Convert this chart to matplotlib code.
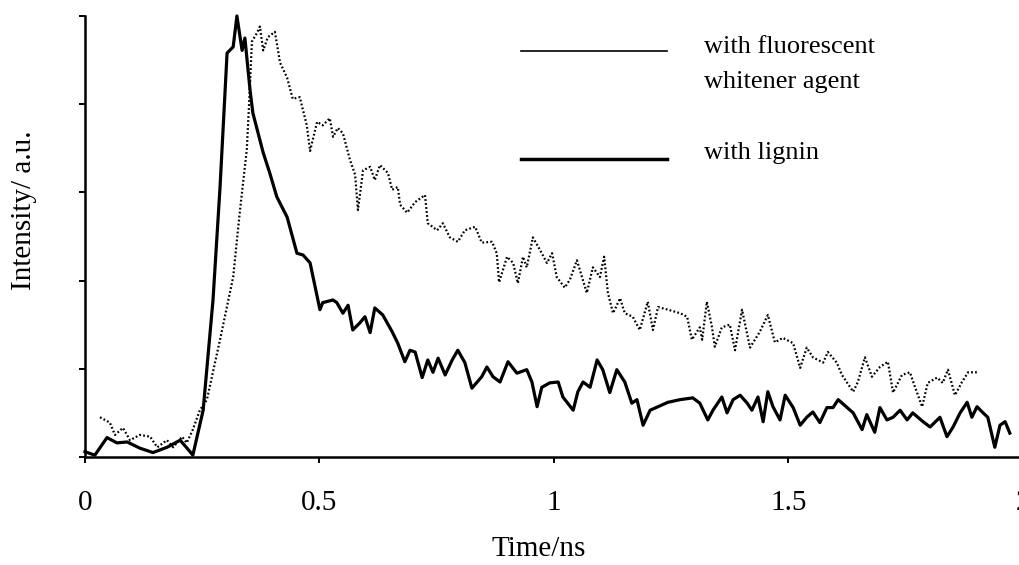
"""
Fluorescence decay: fluorescent whitener agent vs lignin
"""

import matplotlib
matplotlib.use("Agg")
import matplotlib.pyplot as plt
from matplotlib.lines import Line2D


# time (ns) and intensity (a.u.)
t_lignin = [0.000, 0.021, 0.047, 0.068, 0.090, 0.117, 0.145, 0.175, 0.203, 0.224, 0.230,
            0.252, 0.273, 0.288, 0.303, 0.316, 0.324, 0.335, 0.341, 0.352, 0.358, 0.380,
            0.394, 0.409, 0.431, 0.452, 0.465, 0.480, 0.501, 0.507, 0.529, 0.537, 0.550,
            0.561, 0.571, 0.586, 0.597, 0.608, 0.618, 0.635, 0.655, 0.667, 0.682, 0.693,
            0.704, 0.719, 0.731, 0.742, 0.753, 0.768, 0.783, 0.795, 0.810, 0.825, 0.846,
            0.857, 0.870, 0.885, 0.902, 0.921, 0.942, 0.953, 0.964, 0.974, 0.991, 1.009,
            1.019, 1.041, 1.051, 1.062, 1.077, 1.092, 1.104, 1.119, 1.134, 1.151, 1.166,
            1.177, 1.190, 1.205, 1.222, 1.243, 1.269, 1.296, 1.311, 1.328, 1.339, 1.358,
            1.369, 1.382, 1.397, 1.412, 1.422, 1.435, 1.446, 1.456, 1.467, 1.482, 1.493,
            1.510, 1.525, 1.539, 1.552, 1.567, 1.582, 1.595, 1.606, 1.625, 1.638, 1.657,
            1.667, 1.684, 1.695, 1.710, 1.723, 1.738, 1.753, 1.765, 1.787, 1.802, 1.823,
            1.838, 1.851, 1.866, 1.881, 1.891, 1.902, 1.915, 1.925, 1.940, 1.951, 1.962,
            1.972]
i_lignin = [0.06, 0.02, 0.22, 0.16, 0.17, 0.10, 0.05, 0.11, 0.19, 0.06, 0.02,
            0.53, 1.78, 3.06, 4.58, 4.65, 5.00, 4.61, 4.75, 4.16, 3.90, 3.45,
            3.22, 2.95, 2.72, 2.31, 2.29, 2.20, 1.67, 1.75, 1.78, 1.75, 1.63,
            1.72, 1.44, 1.52, 1.59, 1.41, 1.69, 1.61, 1.42, 1.29, 1.08, 1.21,
            1.19, 0.90, 1.10, 0.96, 1.12, 0.93, 1.10, 1.21, 1.07, 0.78, 0.91,
            1.02, 0.91, 0.85, 1.08, 0.95, 0.99, 0.85, 0.57, 0.79, 0.84, 0.85,
            0.68, 0.53, 0.74, 0.85, 0.79, 1.10, 0.99, 0.73, 0.99, 0.85, 0.61,
            0.65, 0.36, 0.53, 0.57, 0.62, 0.65, 0.67, 0.61, 0.42, 0.53, 0.68,
            0.50, 0.65, 0.70, 0.61, 0.53, 0.68, 0.40, 0.74, 0.57, 0.42, 0.70,
            0.56, 0.36, 0.45, 0.51, 0.39, 0.56, 0.56, 0.65, 0.56, 0.50, 0.31,
            0.48, 0.28, 0.56, 0.42, 0.45, 0.53, 0.42, 0.50, 0.40, 0.34, 0.45,
            0.23, 0.34, 0.50, 0.62, 0.45, 0.57, 0.50, 0.45, 0.11, 0.36, 0.40,
            0.27]

t_fwa = [0.032, 0.053, 0.064, 0.081, 0.096, 0.117, 0.139, 0.154, 0.175, 0.188, 0.207,
         0.217, 0.230, 0.245, 0.260, 0.288, 0.316, 0.330, 0.345, 0.350, 0.356, 0.367,
         0.373, 0.380, 0.390, 0.405, 0.416, 0.431, 0.443, 0.458, 0.473, 0.480, 0.495,
         0.507, 0.522, 0.529, 0.539, 0.550, 0.565, 0.576, 0.582, 0.593, 0.608, 0.618,
         0.629, 0.646, 0.655, 0.667, 0.672, 0.687, 0.704, 0.725, 0.731, 0.751, 0.763,
         0.778, 0.795, 0.810, 0.832, 0.846, 0.868, 0.878, 0.883, 0.900, 0.913, 0.923,
         0.934, 0.942, 0.955, 0.970, 0.985, 0.996, 1.006, 1.023, 1.034, 1.049, 1.070,
         1.083, 1.098, 1.107, 1.115, 1.126, 1.141, 1.151, 1.168, 1.183, 1.200, 1.211,
         1.222, 1.243, 1.269, 1.284, 1.294, 1.311, 1.316, 1.326, 1.337, 1.343, 1.358,
         1.375, 1.386, 1.401, 1.418, 1.439, 1.456, 1.471, 1.488, 1.510, 1.525, 1.539,
         1.552, 1.574, 1.584, 1.603, 1.614, 1.638, 1.648, 1.663, 1.678, 1.695, 1.712,
         1.723, 1.742, 1.759, 1.770, 1.785, 1.797, 1.817, 1.829, 1.840, 1.855, 1.870,
         1.883, 1.902]
i_fwa = [0.45, 0.39, 0.25, 0.33, 0.19, 0.25, 0.23, 0.11, 0.19, 0.11, 0.23,
         0.16, 0.31, 0.53, 0.65, 1.33, 2.04, 2.77, 3.48, 4.01, 4.71, 4.81,
         4.88, 4.61, 4.76, 4.82, 4.47, 4.30, 4.06, 4.08, 3.76, 3.47, 3.80,
         3.76, 3.84, 3.63, 3.73, 3.67, 3.37, 3.20, 2.80, 3.25, 3.29, 3.14,
         3.31, 3.22, 3.03, 3.06, 2.86, 2.77, 2.89, 2.97, 2.65, 2.57, 2.65,
         2.49, 2.44, 2.57, 2.61, 2.43, 2.44, 2.31, 1.98, 2.27, 2.20, 1.97,
         2.27, 2.15, 2.49, 2.35, 2.20, 2.31, 2.04, 1.92, 2.01, 2.23, 1.86,
         2.15, 2.04, 2.27, 1.86, 1.63, 1.80, 1.63, 1.59, 1.44, 1.76, 1.44,
         1.70, 1.67, 1.63, 1.59, 1.33, 1.47, 1.33, 1.76, 1.47, 1.25, 1.47,
         1.50, 1.21, 1.67, 1.24, 1.42, 1.61, 1.30, 1.35, 1.29, 1.01, 1.24,
         1.13, 1.07, 1.19, 1.07, 0.93, 0.74, 0.85, 1.13, 0.91, 1.02, 1.08,
         0.73, 0.93, 0.96, 0.79, 0.57, 0.84, 0.90, 0.84, 0.99, 0.70, 0.85,
         0.96, 0.96]

xticks = [0, 0.5, 1, 1.5, 2]
xticklabels = ["0", "0.5", "1", "1.5", "2"]
yticks = [0, 1, 2, 3, 4, 5]

labels = ["with fluorescent\nwhitener agent", "with lignin"]


plt.rcParams["font.family"] = ["Liberation Serif", "DejaVu Serif"]

fig = plt.figure(figsize=(10.2, 5.65), dpi=100)
ax = fig.add_axes([0.0833, 0.1912, 0.9196, 0.7805])

ax.plot(t_fwa, i_fwa, color="k", lw=1.6, linestyle=(0, (0.8, 1.0)), clip_on=False)
ax.plot(t_lignin, i_lignin, color="k", lw=2.3, clip_on=False)

ax.set_xlim(0, 2)
ax.set_ylim(0, 5)
ax.set_xticks(xticks)
ax.set_xticklabels(xticklabels)
ax.set_yticks(yticks)
ax.set_yticklabels([])
ax.tick_params(axis="both", direction="out", length=4, width=1.4, labelsize=21)
ax.tick_params(axis="x", pad=20)

for s in ["top", "right"]:
    ax.spines[s].set_visible(False)
for s in ["left", "bottom"]:
    ax.spines[s].set_linewidth(1.8)

fig.text(0.528, 0.016, "Time/ns", fontsize=21, ha="center", va="baseline")
fig.text(0.024, 0.628, "Intensity/ a.u.", fontsize=21, rotation=90,
         ha="center", va="center")

# hand-made legend
fig.add_artist(Line2D([0.511, 0.654], [0.910, 0.910], color="k", lw=1.2,
                      transform=fig.transFigure))
fig.add_artist(Line2D([0.511, 0.654], [0.719, 0.719], color="k", lw=2.5,
                      transform=fig.transFigure))
fig.text(0.690, 0.906, "with fluorescent", fontsize=19, va="baseline")
fig.text(0.690, 0.844, "whitener agent", fontsize=19, va="baseline")
fig.text(0.690, 0.719, labels[1], fontsize=19, va="baseline")

fig.savefig("out.png", dpi=100)
